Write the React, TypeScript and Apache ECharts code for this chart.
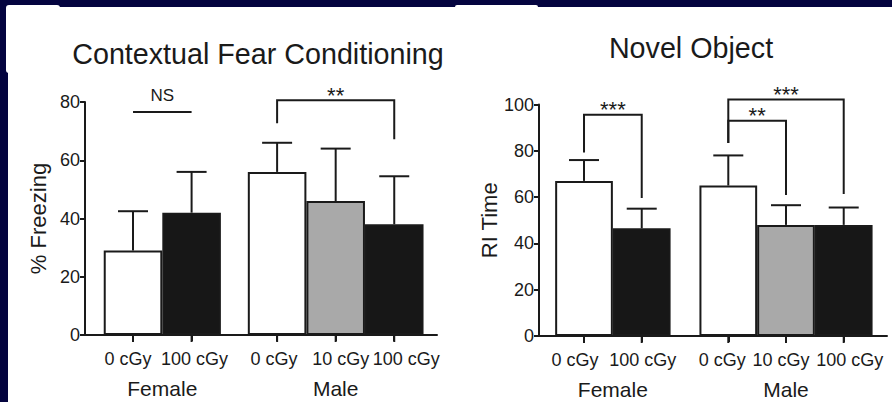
import React, { useEffect, useRef } from "react";
import * as echarts from "echarts";

// ---- data ----
const DOSES = ["0 cGy", "100 cGy", "0 cGy", "10 cGy", "100 cGy"];
const GROUP_OF = [0, 0, 1, 1, 1];
const GROUPS = ["Female", "Male"];

const FEAR_TITLE = "Contextual Fear Conditioning";
const FEAR_Y_NAME = "% Freezing";
const FEAR_MEAN = [29, 42, 56, 46, 38];
const FEAR_UPPER = [42.5, 56, 66, 64, 54.5];
const FEAR_Y_MAX = 80;

const NOVEL_TITLE = "Novel Object";
const NOVEL_Y_NAME = "RI Time";
const NOVEL_MEAN = [67, 46.5, 65, 48, 48];
const NOVEL_UPPER = [76, 55, 78, 56.5, 55.5];
const NOVEL_Y_MAX = 100;

// significance brackets: from/to category index, heights in data units
const FEAR_BRACKETS = [
  { from: 0, to: 1, label: "NS", top: 76.6, leftEnd: 76.6, rightEnd: 76.6 },
  { from: 2, to: 4, label: "**", top: 80.6, leftEnd: 72.7, rightEnd: 67.2 },
];
const NOVEL_BRACKETS = [
  { from: 0, to: 1, label: "***", top: 95.6, leftEnd: 79.3, rightEnd: 59.6 },
  { from: 2, to: 4, label: "***", top: 102.2, leftEnd: 83.4, rightEnd: 61.3 },
  { from: 2, to: 3, label: "**", top: 93.0, leftEnd: 83.4, rightEnd: 60.9 },
];

const FILL: Record<string, string> = {
  "0 cGy": "#ffffff",
  "10 cGy": "#a9a9a9",
  "100 cGy": "#171717",
};

const FONT = "'Liberation Sans', Arial, Helvetica, sans-serif";
const INK = "#1a1a1a";
const NAVY = "#04043f";

function makePanel(opts: {
  gridIndex: number;
  left: number;
  width: number;
  top: number;
  height: number;
  xMin: number;
  xMax: number;
  groupGap: number;
  labelDx: number[];
  nameGap: number;
  yMax: number;
  yName: string;
  mean: number[];
  upper: number[];
  brackets: typeof FEAR_BRACKETS;
}) {
  const pos = DOSES.map((_, i) => i + GROUP_OF[i] * opts.groupGap);
  const groupPos = GROUPS.map((_, g) => {
    const ps = pos.filter((_, i) => GROUP_OF[i] === g);
    return (ps[0] + ps[ps.length - 1]) / 2;
  });
  const gi = opts.gridIndex;
  const barW = opts.width / (opts.xMax - opts.xMin);

  const grid = { left: opts.left, top: opts.top, width: opts.width, height: opts.height };
  const xAxis = {
    type: "value",
    gridIndex: gi,
    min: opts.xMin,
    max: opts.xMax,
    position: "bottom",
    splitLine: { show: false },
    axisLine: { show: true, onZero: false, lineStyle: { color: INK, width: 2 } },
    axisTick: { show: true, customValues: pos, length: 6, lineStyle: { color: INK, width: 2 } },
    axisLabel: { show: false },
  };
  const yAxis = {
    type: "value",
    gridIndex: gi,
    min: 0,
    max: opts.yMax,
    interval: 20,
    name: opts.yName,
    nameLocation: "middle",
    nameRotate: 90,
    nameGap: opts.nameGap,
    nameTextStyle: { fontSize: 22, fontFamily: FONT, color: INK },
    splitLine: { show: false },
    axisLine: { show: true, onZero: false, lineStyle: { color: INK, width: 2 } },
    axisTick: { show: true, length: 5, lineStyle: { color: INK, width: 2 } },
    axisLabel: { margin: 5, fontSize: 18, fontFamily: FONT, color: INK },
  };

  const bars = {
    type: "bar",
    xAxisIndex: gi,
    yAxisIndex: gi,
    barWidth: barW,
    z: 2,
    data: opts.mean.map((m, i) => ({
      value: [pos[i], m],
      itemStyle: { color: FILL[DOSES[i]], borderColor: INK, borderWidth: 2 },
    })),
  };

  // x baseline across the plot plus tick marks, drawn through the axis scale
  const baseline = {
    type: "custom",
    xAxisIndex: gi,
    yAxisIndex: gi,
    z: 6,
    clip: false,
    encode: { x: 0, y: 1 },
    data: pos.map((p) => [p, 0]),
    renderItem: (p: any, api: any) => {
      const c = api.coord([api.value(0), api.value(1)]);
      const children: any[] = [
        { type: "rect", shape: { x: c[0] - 1, y: c[1], width: 2, height: 7 }, style: { fill: INK } },
      ];
      if (p.dataIndex === 0) {
        const a = api.coord([opts.xMin, 0]);
        const b = api.coord([opts.xMax, 0]);
        children.push({
          type: "rect",
          shape: { x: a[0] - 1, y: a[1] - 1, width: b[0] - a[0] + 1, height: 2 },
          style: { fill: INK },
        });
      }
      return { type: "group", children };
    },
  };

  // error bars and the dose label under each tick
  const errors = {
    type: "custom",
    xAxisIndex: gi,
    yAxisIndex: gi,
    z: 3,
    clip: false,
    encode: { x: 0, y: [1, 2] },
    data: opts.mean.map((m, i) => [pos[i], m, opts.upper[i]]),
    renderItem: (p: any, api: any) => {
      const a = api.coord([api.value(0), api.value(1)]);
      const b = api.coord([api.value(0), api.value(2)]);
      const base = api.coord([api.value(0), 0]);
      const cap = 30;
      return {
        type: "group",
        children: [
          { type: "line", shape: { x1: a[0], y1: a[1], x2: b[0], y2: b[1] }, style: { stroke: INK, lineWidth: 2 } },
          { type: "line", shape: { x1: b[0] - cap / 2, y1: b[1], x2: b[0] + cap / 2, y2: b[1] }, style: { stroke: INK, lineWidth: 2 } },
          {
            type: "text",
            style: {
              text: DOSES[p.dataIndex],
              x: base[0] + opts.labelDx[p.dataIndex],
              y: base[1] + 24,
              align: "center",
              verticalAlign: "middle",
              fontSize: 18,
              fontFamily: FONT,
              fill: INK,
            },
          },
        ],
      };
    },
  };

  // group names under the dose labels
  const groups = {
    type: "custom",
    xAxisIndex: gi,
    yAxisIndex: gi,
    z: 3,
    clip: false,
    encode: { x: 0, y: 1 },
    data: groupPos.map((g) => [g, 0]),
    renderItem: (p: any, api: any) => {
      const c = api.coord([api.value(0), api.value(1)]);
      return {
        type: "text",
        style: {
          text: GROUPS[p.dataIndex],
          x: c[0],
          y: c[1] + 53,
          align: "center",
          verticalAlign: "middle",
          fontSize: 21,
          fontFamily: FONT,
          fill: INK,
        },
      };
    },
  };

  const brackets = {
    type: "custom",
    xAxisIndex: gi,
    yAxisIndex: gi,
    z: 4,
    clip: false,
    encode: { x: [0, 1], y: [2, 3, 4] },
    data: opts.brackets.map((b) => [pos[b.from], pos[b.to], b.top, b.leftEnd, b.rightEnd]),
    renderItem: (p: any, api: any) => {
      const b = opts.brackets[p.dataIndex];
      const tl = api.coord([api.value(0), api.value(2)]);
      const tr = api.coord([api.value(1), api.value(2)]);
      const l = api.coord([api.value(0), api.value(3)]);
      const r = api.coord([api.value(1), api.value(4)]);
      const isNS = b.label === "NS";
      return {
        type: "group",
        children: [
          {
            type: "polyline",
            shape: { points: [l, tl, tr, r] },
            style: { stroke: INK, lineWidth: 2, fill: "none" },
          },
          {
            type: "text",
            style: {
              text: b.label,
              x: (tl[0] + tr[0]) / 2,
              y: tl[1] - (isNS ? 16 : 5),
              align: "center",
              verticalAlign: "middle",
              fontSize: isNS ? 17 : 22,
              fontFamily: FONT,
              fill: INK,
            },
          },
        ],
      };
    },
  };

  return { grid, xAxis, yAxis, series: [bars, baseline, errors, groups, brackets] };
}

export default function App() {
  const ref = useRef<HTMLDivElement>(null);

  useEffect(() => {
    document.body.style.margin = "0";
    if (!ref.current) return;
    const chart = echarts.init(ref.current, undefined, { renderer: "svg" });

    const fear = makePanel({
      gridIndex: 0,
      left: 85,
      width: 352,
      top: 102,
      height: 233,
      xMin: -0.82,
      xMax: 5.19,
      groupGap: 0.46,
      labelDx: [-5, 3, -3, 5, 12],
      nameGap: 36,
      yMax: FEAR_Y_MAX,
      yName: FEAR_Y_NAME,
      mean: FEAR_MEAN,
      upper: FEAR_UPPER,
      brackets: FEAR_BRACKETS,
    });
    const novel = makePanel({
      gridIndex: 1,
      left: 539,
      width: 348,
      top: 104.5,
      height: 231.5,
      xMin: -0.78,
      xMax: 5.25,
      groupGap: 0.5,
      labelDx: [-9, 1, -6, -5, 6],
      nameGap: 29,
      yMax: NOVEL_Y_MAX,
      yName: NOVEL_Y_NAME,
      mean: NOVEL_MEAN,
      upper: NOVEL_UPPER,
      brackets: NOVEL_BRACKETS,
    });

    chart.setOption({
      animation: false,
      backgroundColor: "transparent",
      title: [
        {
          text: FEAR_TITLE,
          left: 253,
          top: 34,
          textAlign: "center",
          textStyle: { fontSize: 28.7, fontWeight: "normal", fontFamily: FONT, color: INK },
        },
        {
          text: NOVEL_TITLE,
          left: 686,
          top: 28,
          textAlign: "center",
          textStyle: { fontSize: 28.7, fontWeight: "normal", fontFamily: FONT, color: INK },
        },
      ],
      grid: [fear.grid, novel.grid],
      xAxis: [fear.xAxis, novel.xAxis],
      yAxis: [fear.yAxis, novel.yAxis],
      series: [...fear.series, ...novel.series],
    });

    return () => chart.dispose();
  }, []);

  return (
    <div style={{ position: "relative", width: 892, height: 402, background: NAVY, overflow: "hidden" }}>
      <div style={{ position: "absolute", left: 8, top: 7, width: 884, height: 395, background: "#ffffff" }} />
      <div style={{ position: "absolute", left: 6, top: 5, width: 54, height: 68, borderRadius: 3, background: "#ffffff" }} />
      <div style={{ position: "absolute", left: 455, top: 5, width: 83, height: 5, borderRadius: 2, background: "#ffffff" }} />
      <div ref={ref} style={{ position: "absolute", left: 0, top: 0, width: 892, height: 402 }} />
    </div>
  );
}
